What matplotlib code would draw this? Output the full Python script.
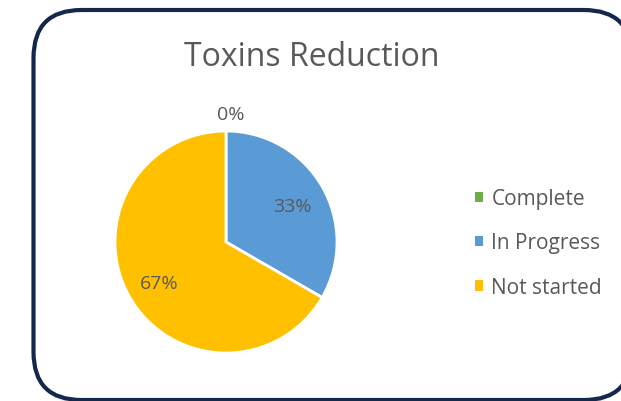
import matplotlib.pyplot as plt
import numpy as np
from matplotlib.patches import FancyBboxPatch, Patch

# Chart data
categories = ['Complete', 'In Progress', 'Not started']
values = [0, 1, 2]
colors = ['#70AD47', '#5B9BD5', '#FFC000']
title = 'Toxins Reduction'

W, H = 621, 402
fig = plt.figure(figsize=(W / 100, H / 100), dpi=100)
fig.patch.set_facecolor('white')
plt.rcParams['font.family'] = ['Open Sans', 'DejaVu Sans']
text_color = '#595959'

# Background axes in pixel units for the rounded frame
bg = fig.add_axes([0, 0, 1, 1])
bg.set_xlim(0, W)
bg.set_ylim(H, 0)
bg.axis('off')

left, top, right, bottom = 33.5, 11, 632, 401
rad = 48
# soft shadow
for i, a in enumerate([0.07, 0.05, 0.03]):
    off = 2 + i * 1.5
    sh = FancyBboxPatch((left + rad + off, top + rad + off),
                        right - left - 2 * rad, bottom - top - 2 * rad,
                        boxstyle=f'round,pad={rad}', fc='none', ec='black',
                        lw=3 + i * 1.5, alpha=a)
    bg.add_patch(sh)
frame = FancyBboxPatch((left + rad, top + rad),
                       right - left - 2 * rad, bottom - top - 2 * rad,
                       boxstyle=f'round,pad={rad}', fc='white', ec='#14284B', lw=3.0)
bg.add_patch(frame)

bg.text(312, 58, title, ha='center', va='center', fontsize=23, color=text_color)

# Pie
cx, cy, r = 226, 243, 111
ax = fig.add_axes([(cx - r) / W, (H - cy - r) / H, 2 * r / W, 2 * r / H])
wedges, _ = ax.pie(values, colors=colors, startangle=90, counterclock=False,
                   wedgeprops=dict(edgecolor='white', linewidth=2))
ax.set_xlim(-1, 1)
ax.set_ylim(-1, 1)
ax.set_aspect('equal')

total = sum(values)
for w, v in zip(wedges, values):
    theta = np.deg2rad((w.theta1 + w.theta2) / 2)
    if v == 0:
        tx, ty = 1.15 * np.cos(theta) + 0.04, 1.15 * np.sin(theta)
    else:
        tx, ty = 0.69 * np.cos(theta), 0.69 * np.sin(theta) - 0.02
    ax.text(tx, ty, f'{round(100 * v / total)}%', ha='center', va='center',
            fontsize=14, color=text_color)

handles = [Patch(facecolor=c, edgecolor='none') for c in colors]
fig.legend(handles, categories, loc='center left', bbox_to_anchor=(456 / W, 1 - 244 / H),
           frameon=False, fontsize=15, labelcolor=text_color,
           handlelength=0.38, handleheight=0.38, handletextpad=0.42, labelspacing=1.12)

fig.savefig('out.png', dpi=100)
